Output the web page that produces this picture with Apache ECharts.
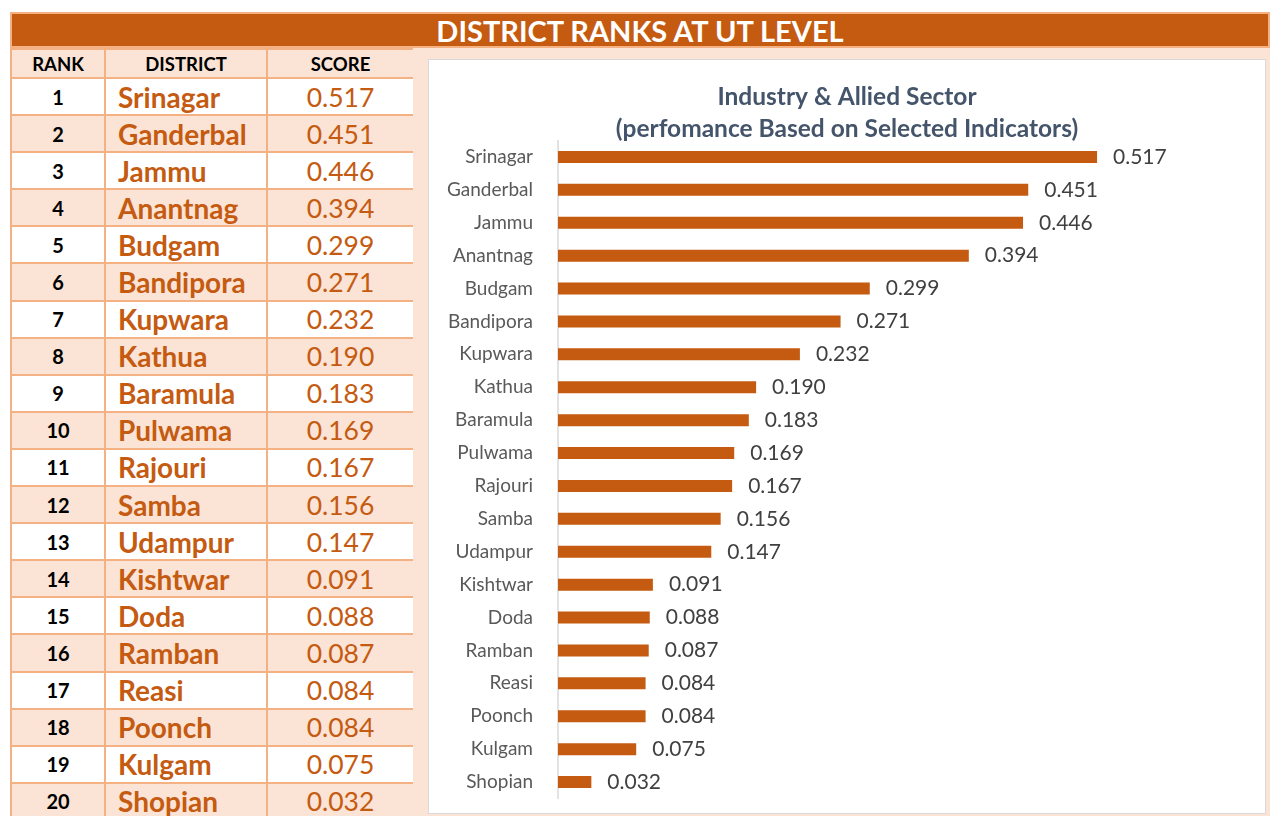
<!DOCTYPE html>
<html>
<head>
<meta charset="utf-8">
<script src="https://cdn.jsdelivr.net/npm/echarts@6/dist/echarts.min.js"></script>
<style>
  body { margin: 0; background: #fff; font-family: Lato, "Noto Sans", sans-serif; }
  .page { position: relative; width: 1270px; height: 816px; overflow: hidden; }
  .banner {
    position: absolute; left: 10px; top: 12px; width: 1256px; height: 32px;
    background: #C55A11; border: 2px solid #F4B183;
    color: #fff; font-weight: bold; font-size: 29px; line-height: 34px; text-align: center;
  }
  .right-panel { position: absolute; left: 413px; top: 48px; width: 857px; height: 768px; background: #FBE4D5; }
  .chart-box {
    position: absolute; left: 428px; top: 59px; width: 836px; height: 753px;
    background: #fff; border: 1px solid #D9D9D9;
  }
  #chart { width: 836px; height: 753px; }
  table.ranks {
    position: absolute; left: 10px; top: 48px; border-collapse: collapse; table-layout: fixed;
  }
  table.ranks td { border: 2px solid #F4B183; padding: 0; height: 35.1px; }
  table.ranks tr.head td {
    background: #FBE4D5; font-weight: bold; font-size: 18.5px; color: #000; text-align: center; height: 27px;
  }
  table.ranks tr.even td { background: #FBE4D5; }
  table.ranks tr.odd td { background: #fff; }
  td.rank { text-align: center; font-weight: bold; font-size: 20px; color: #000; }
  td.dist { padding-left: 12px !important; font-weight: bold; font-size: 28px; color: #C55A11; }
  td.score { text-align: center; font-size: 26.5px; color: #C55A11; }
</style>
</head>
<body>
<div class="page">
  <div class="banner">DISTRICT RANKS AT UT LEVEL</div>
  <table class="ranks" id="ranks">
    <colgroup><col style="width:94px"><col style="width:162px"><col style="width:147px"></colgroup>
  </table>
  <div class="right-panel"></div>
  <div class="chart-box"><div id="chart"></div></div>
</div>
<script>
// data
var districts = ['Srinagar', 'Ganderbal', 'Jammu', 'Anantnag', 'Budgam', 'Bandipora', 'Kupwara',
  'Kathua', 'Baramula', 'Pulwama', 'Rajouri', 'Samba', 'Udampur', 'Kishtwar', 'Doda',
  'Ramban', 'Reasi', 'Poonch', 'Kulgam', 'Shopian']
var scores = [0.517, 0.451, 0.446, 0.394, 0.299, 0.271, 0.232, 0.190, 0.183, 0.169,
  0.167, 0.156, 0.147, 0.091, 0.088, 0.087, 0.084, 0.084, 0.075, 0.032]
var ranks = [1, 2, 3, 4, 5, 6, 7, 8, 9, 10, 11, 12, 13, 14, 15, 16, 17, 18, 19, 20]
var headers = ['RANK', 'DISTRICT', 'SCORE']

// table on the left
var table = document.getElementById('ranks')
var html = '<tr class="head">' + headers.map(function (h) { return '<td>' + h + '</td>' }).join('') + '</tr>'
for (var i = 0; i < districts.length; i++) {
  html += '<tr class="' + (i % 2 === 0 ? 'odd' : 'even') + '">' +
    '<td class="rank">' + ranks[i] + '</td>' +
    '<td class="dist">' + districts[i] + '</td>' +
    '<td class="score">' + scores[i].toFixed(3) + '</td></tr>'
}
table.insertAdjacentHTML('beforeend', html)

// bar chart
var chart = echarts.init(document.getElementById('chart'))
chart.setOption({
  animation: false,
  title: {
    text: 'Industry & Allied Sector\n(perfomance Based on Selected Indicators)',
    left: 'center',
    top: 16,
    textStyle: { fontFamily: 'Lato', fontWeight: 'bold', fontSize: 24.5, lineHeight: 32, color: '#44546A' }
  },
  grid: { left: 129, top: 80.5, width: 625.6, height: 658 },
  xAxis: {
    type: 'value', min: 0, max: 0.6, show: false, splitLine: { show: false }
  },
  yAxis: {
    type: 'category',
    inverse: true,
    data: districts,
    axisTick: { show: false },
    axisLine: { lineStyle: { color: '#D9D9D9', width: 1.5 } },
    axisLabel: { margin: 25, fontFamily: 'Lato', fontSize: 19, color: '#595959' }
  },
  series: [{
    type: 'bar',
    data: scores,
    barWidth: 12,
    itemStyle: { color: '#C55A11' },
    label: {
      show: true, position: 'right', distance: 16,
      fontFamily: 'Lato', fontSize: 21, color: '#404040',
      formatter: function (p) { return p.value.toFixed(3) }
    }
  }]
})
</script>
</body>
</html>
